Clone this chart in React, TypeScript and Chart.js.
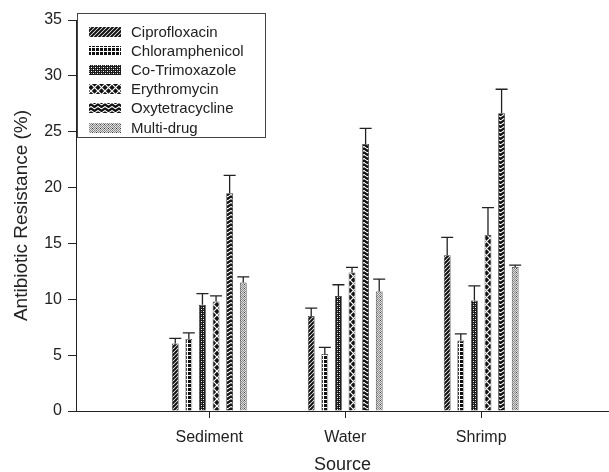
import React, { useEffect, useRef } from "react";
import { Chart, registerables } from "chart.js";

Chart.register(...registerables);

const categories = ["Sediment", "Water", "Shrimp"];
const seriesNames = ["Ciprofloxacin", "Chloramphenicol", "Co-Trimoxazole", "Erythromycin", "Oxytetracycline", "Multi-drug"];

const ciprofloxacin = [6.05, 8.5, 13.95];
const chloramphenicol = [6.45, 5.1, 6.3];
const coTrimoxazole = [9.5, 10.3, 9.9];
const erythromycin = [9.8, 12.4, 15.75];
const oxytetracycline = [19.5, 23.9, 26.65];
const multiDrug = [11.5, 10.7, 12.9];

const ciprofloxacinErr = [0.45, 0.7, 1.6];
const chloramphenicolErr = [0.55, 0.6, 0.6];
const coTrimoxazoleErr = [1.0, 1.0, 1.3];
const erythromycinErr = [0.5, 0.45, 2.45];
const oxytetracyclineErr = [1.6, 1.4, 2.15];
const multiDrugErr = [0.5, 1.1, 0.15];

const yTickValues = [0, 5, 10, 15, 20, 25, 30, 35];

const seriesValues = [ciprofloxacin, chloramphenicol, coTrimoxazole, erythromycin, oxytetracycline, multiDrug];
const seriesErrors = [ciprofloxacinErr, chloramphenicolErr, coTrimoxazoleErr, erythromycinErr, oxytetracyclineErr, multiDrugErr];

const FONT = '"Liberation Sans", Arial, sans-serif';
const INK = "#222";

function makePattern(kind: number): CanvasPattern | string {
  const c = document.createElement("canvas");
  const g = c.getContext("2d")!;
  if (kind === 0) {
    c.width = 4; c.height = 4;
    g.fillStyle = "#fff"; g.fillRect(0, 0, 4, 4);
    g.strokeStyle = "#111"; g.lineWidth = 2;
    g.beginPath();
    g.moveTo(-1, 5); g.lineTo(5, -1);
    g.moveTo(-1, 1); g.lineTo(1, -1);
    g.moveTo(3, 5); g.lineTo(5, 3);
    g.stroke();
  } else if (kind === 1) {
    c.width = 4; c.height = 4;
    g.fillStyle = "#111"; g.fillRect(0, 0, 4, 4);
    g.fillStyle = "#fff";
    g.fillRect(3, 0, 1, 4);
    g.fillRect(0, 3, 4, 1);
  } else if (kind === 2) {
    c.width = 4; c.height = 4;
    g.fillStyle = "#1a1a1a"; g.fillRect(0, 0, 4, 4);
    g.fillStyle = "#fff";
    g.fillRect(1, 1, 1, 1);
    g.fillRect(3, 3, 1, 1);
    g.fillStyle = "#888";
    g.fillRect(3, 1, 1, 1);
    g.fillRect(1, 3, 1, 1);
  } else if (kind === 3) {
    c.width = 7; c.height = 7;
    g.fillStyle = "#111"; g.fillRect(0, 0, 7, 7);
    g.strokeStyle = "#fff"; g.lineWidth = 1.2;
    g.beginPath();
    g.moveTo(0, 0); g.lineTo(7, 7);
    g.moveTo(7, 0); g.lineTo(0, 7);
    g.stroke();
  } else if (kind === 4) {
    c.width = 7; c.height = 4;
    g.fillStyle = "#fff"; g.fillRect(0, 0, 7, 4);
    g.strokeStyle = "#111"; g.lineWidth = 2.2;
    g.beginPath();
    g.moveTo(-0.5, 0); g.lineTo(3.5, 3); g.lineTo(7.5, 0);
    g.moveTo(-0.5, 4); g.lineTo(0.5, 4.8);
    g.moveTo(6.5, 4.8); g.lineTo(7.5, 4);
    g.stroke();
  } else {
    c.width = 4; c.height = 4;
    g.fillStyle = "#dcdcdc"; g.fillRect(0, 0, 4, 4);
    g.fillStyle = "#8c8c8c";
    for (let y = 0; y < 4; y++) for (let x = 0; x < 4; x++) if ((x + y) % 2 === 0) g.fillRect(x, y, 1, 1);
    g.fillStyle = "#444";
    g.fillRect(0, 0, 1, 1);
  }
  return g.createPattern(c, "repeat") || "#888";
}

export default function App() {
  const ref = useRef<HTMLCanvasElement | null>(null);

  useEffect(() => {
    if (!ref.current) return;
    const patterns = seriesNames.map((_, i) => makePattern(i));

    const errorBars = {
      id: "errorBars",
      afterDatasetsDraw(chart: any) {
        const ctx = chart.ctx;
        const yScale = chart.scales.y;
        ctx.save();
        ctx.strokeStyle = INK;
        ctx.lineWidth = 1.3;
        chart.data.datasets.forEach((ds: any, di: number) => {
          const meta = chart.getDatasetMeta(di);
          meta.data.forEach((bar: any, i: number) => {
            const v = seriesValues[di][i];
            const e = seriesErrors[di][i];
            const yTop = yScale.getPixelForValue(v);
            const yErr = yScale.getPixelForValue(v + e);
            const x = bar.x;
            ctx.beginPath();
            ctx.moveTo(x, yTop);
            ctx.lineTo(x, yErr);
            ctx.moveTo(x - 6, yErr);
            ctx.lineTo(x + 6, yErr);
            ctx.stroke();
          });
        });
        ctx.restore();
      },
    };

    const legendBox = {
      id: "legendBox",
      afterDraw(chart: any) {
        const ctx = chart.ctx;
        ctx.save();
        ctx.strokeStyle = "#444";
        ctx.lineWidth = 1;
        ctx.fillStyle = "#fff";
        ctx.fillRect(77.5, 13.5, 188, 124);
        ctx.strokeRect(77.5, 13.5, 188, 124);
        ctx.font = "15px " + FONT;
        ctx.textBaseline = "middle";
        chart.data.datasets.forEach((ds: any, i: number) => {
          const cy = 31.5 + i * 19.2;
          ctx.fillStyle = patterns[i];
          ctx.fillRect(89, Math.round(cy - 5), 32, 10);
          ctx.fillStyle = INK;
          ctx.fillText(ds.label, 131, cy + 1);
        });
        ctx.restore();
      },
    };

    const chart = new Chart(ref.current, {
      type: "bar",
      data: {
        datasets: seriesNames.map((name, i) => ({
          label: name,
          data: seriesValues[i].map((v, j) => ({ x: j + 1, y: v })),
          backgroundColor: patterns[i],
          borderColor: "#333",
          borderWidth: 0.8,
          categoryPercentage: 0.6,
          barPercentage: 0.5,
        })),
      },
      options: {
        animation: false,
        responsive: false,
        layout: { padding: { top: 20, right: 0, left: 0, bottom: 0 } },
        plugins: {
          legend: { display: false },
          tooltip: { enabled: false },
        },
        scales: {
          x: {
            type: "linear",
            offset: false,
            min: 0.02,
            max: 3.94,
            afterBuildTicks: (scale: any) => {
              scale.ticks = categories.map((_, i) => ({ value: i + 1 }));
            },
            afterFit: (scale: any) => {
              scale.height = 61;
            },
            grid: { offset: false, drawOnChartArea: false, drawTicks: true, tickLength: 7, color: INK },
            border: { color: INK, width: 1 },
            ticks: {
              autoSkip: false,
              maxRotation: 0,
              padding: 10,
              color: INK,
              font: { family: FONT, size: 16 },
              callback: (v: any) => categories[Number(v) - 1] ?? "",
            },
            title: {
              display: true,
              text: "Source",
              color: INK,
              font: { family: FONT, size: 18, lineHeight: 0.78 },
              padding: { top: 0, bottom: 0 },
            },
          },
          y: {
            min: 0,
            max: 35,
            afterBuildTicks: (scale: any) => {
              scale.ticks = yTickValues.map((v) => ({ value: v }));
            },
            afterFit: (scale: any) => {
              scale.width = 76;
            },
            grid: { drawOnChartArea: false, drawTicks: true, tickLength: 8, color: INK },
            border: { color: INK, width: 1 },
            ticks: {
              padding: 6,
              color: INK,
              font: { family: FONT, size: 16 },
            },
            title: {
              display: true,
              text: "Antibiotic Resistance (%)",
              color: INK,
              font: { family: FONT, size: 19, lineHeight: 1.2 },
              padding: { top: 10, bottom: 0 },
            },
          },
        },
      },
      plugins: [errorBars, legendBox],
    } as any);

    return () => chart.destroy();
  }, []);

  return (
    <div style={{ position: "absolute", left: 0, top: 0, width: 609, height: 472, background: "#fff" }}>
      <canvas ref={ref} width={609} height={472} style={{ display: "block" }} />
    </div>
  );
}
